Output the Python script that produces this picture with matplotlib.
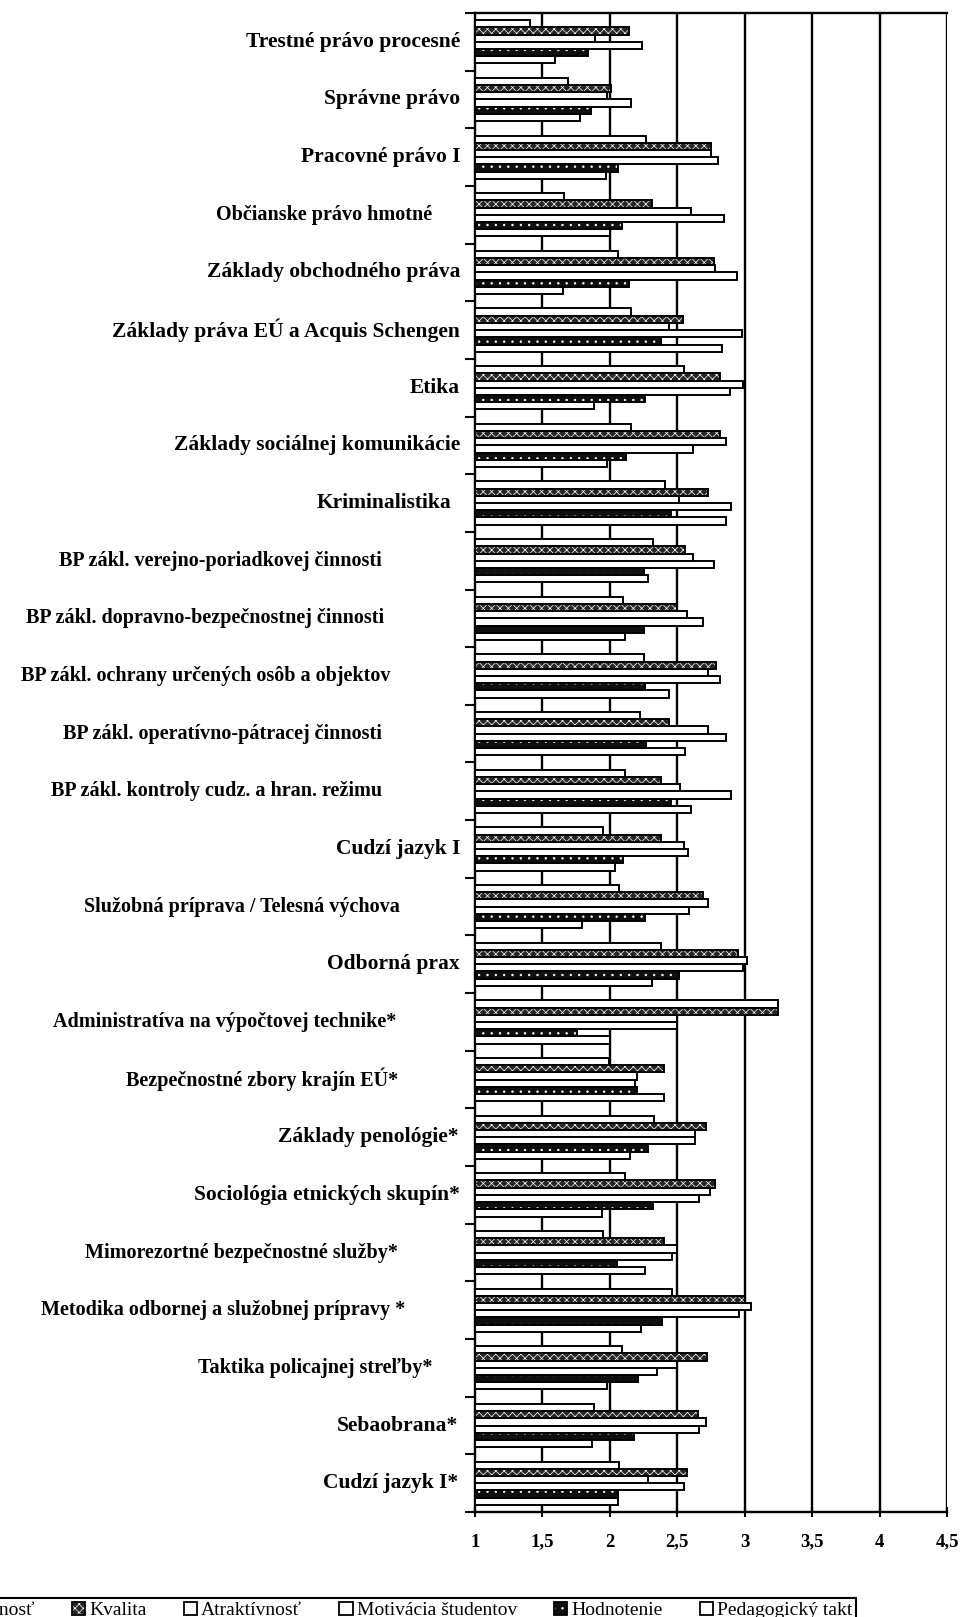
import matplotlib
matplotlib.use("Agg")
import matplotlib.pyplot as plt
from matplotlib.patches import Patch
from matplotlib.ticker import FixedLocator

plt.rcParams['font.family'] = ['Liberation Serif', 'DejaVu Serif']
plt.rcParams['hatch.linewidth'] = 0.5

subjects = [
    "Trestné právo procesné",
    "Správne právo",
    "Pracovné právo I",
    "Občianske právo hmotné",
    "Základy obchodného práva",
    "Základy práva EÚ a Acquis Schengen",
    "Etika",
    "Základy sociálnej komunikácie",
    "Kriminalistika",
    "BP zákl. verejno-poriadkovej činnosti",
    "BP zákl. dopravno-bezpečnostnej činnosti",
    "BP zákl. ochrany určených osôb a objektov",
    "BP zákl. operatívno-pátracej činnosti",
    "BP zákl. kontroly cudz. a hran. režimu",
    "Cudzí jazyk I",
    "Služobná príprava / Telesná výchova",
    "Odborná prax",
    "Administratíva na výpočtovej technike*",
    "Bezpečnostné zbory krajín EÚ*",
    "Základy penológie*",
    "Sociológia etnických skupín*",
    "Mimorezortné bezpečnostné služby*",
    "Metodika odbornej a služobnej prípravy *",
    "Taktika policajnej streľby*",
    "Sebaobrana*",
    "Cudzí jazyk I*",
]

series_names = ["Odbornosť", "Kvalita", "Atraktívnosť", "Motivácia študentov",
                "Hodnotenie", "Pedagogický takt"]

odbornost = [1.41, 1.69, 2.27, 1.66, 2.06, 2.16, 2.55, 2.16, 2.41, 2.32, 2.10, 2.25, 2.22,
             2.11, 1.95, 2.07, 2.38, 3.25, 1.99, 2.33, 2.11, 1.95, 2.46, 2.09, 1.88, 2.07]
kvalita = [2.14, 2.01, 2.75, 2.31, 2.77, 2.54, 2.82, 2.82, 2.73, 2.56, 2.50, 2.79, 2.44,
           2.38, 2.38, 2.69, 2.95, 3.25, 2.40, 2.71, 2.78, 2.40, 3.00, 2.72, 2.65, 2.57]
atraktivnost = [1.89, 1.98, 2.75, 2.60, 2.78, 2.44, 2.99, 2.86, 2.51, 2.62, 2.57, 2.73, 2.73,
                2.52, 2.55, 2.73, 3.02, 2.50, 2.20, 2.63, 2.74, 2.50, 3.05, 2.50, 2.71, 2.28]
motivacia = [2.24, 2.16, 2.80, 2.85, 2.94, 2.98, 2.89, 2.62, 2.90, 2.77, 2.69, 2.82, 2.86,
             2.90, 2.58, 2.59, 2.99, 2.50, 2.19, 2.63, 2.66, 2.46, 2.96, 2.35, 2.66, 2.55]
hodnotenie = [1.84, 1.86, 2.06, 2.09, 2.14, 2.38, 2.26, 2.12, 2.45, 2.25, 2.25, 2.26, 2.27,
              2.45, 2.10, 2.26, 2.51, 1.76, 2.20, 2.28, 2.32, 2.05, 2.39, 2.21, 2.18, 2.06]
ped_takt = [1.59, 1.78, 1.97, 2.00, 1.65, 2.83, 1.88, 1.98, 2.86, 2.28, 2.11, 2.44, 2.56,
            2.60, 2.04, 1.79, 2.31, 2.00, 2.40, 2.15, 1.94, 2.26, 2.23, 1.98, 1.87, 2.06]

x_ticks = [1, 1.5, 2, 2.5, 3, 3.5, 4, 4.5]

all_series = [odbornost, kvalita, atraktivnost, motivacia, hodnotenie, ped_takt]
# face colour, hatch (None = plain white bar)
styles = [("white", None), ("#262626", "xxxx"), ("white", None), ("white", None),
          ("#0f0f0f", ".."), ("white", None)]
# distance of each label's right edge from the axis (px) and whether the
# label was typeset letter-spaced (drawn a bit larger here)
label_gap = [15, 15, 15, 43, 15, 15, 15, 15, 24, 93, 91, 85, 93, 93, 15, 75, 15, 79, 77,
             17, 15, 77, 70, 43, 17, 17]
spaced = [1, 1, 1, 0, 1, 1, 1, 1, 1, 0, 0, 0, 0, 0, 1, 0, 1, 0, 0, 1, 1, 0, 0, 0, 1, 1]

fig = plt.figure(figsize=(9.72, 16.17), dpi=100)
ax = fig.add_axes([475 / 972, 1 - 1512 / 1617, 472 / 972, 1499 / 1617])

n = len(subjects)
h = 0.125
for j, vals in enumerate(all_series):
    face, hatch = styles[j]
    ys = [i + (j - 2.5) * h for i in range(n)]
    widths = [v - 1 for v in vals]
    if hatch is None:
        ax.barh(ys, widths, left=1, height=h, color=face, edgecolor="black",
                linewidth=1.4, zorder=3)
    else:
        ax.barh(ys, widths, left=1, height=h, color=face, edgecolor="white",
                linewidth=0, hatch=hatch, zorder=3)
        ax.barh(ys, widths, left=1, height=h, fill=False, edgecolor="black",
                linewidth=1.4, zorder=4)

for xv in x_ticks[1:]:
    ax.axvline(xv, color="black", linewidth=1.7, zorder=1)

ax.set_xlim(1, 4.5)
ax.set_ylim(n - 0.5, -0.5)
ax.set_xticks(x_ticks)
ax.set_xticklabels([("%g" % t).replace(".", ",") for t in x_ticks],
                   fontsize=13.5, fontweight="bold")
ax.tick_params(axis="x", direction="inout", length=7, width=1.5, pad=12)

ax.set_yticks([])
ax.yaxis.set_minor_locator(FixedLocator([i - 0.5 for i in range(n + 1)]))
ax.tick_params(axis="y", which="minor", direction="out", length=7, width=1.5)

for sp in ["left", "bottom", "top"]:
    ax.spines[sp].set_linewidth(1.7)
ax.spines["right"].set_visible(False)

for i, name in enumerate(subjects):
    ax.annotate(name, xy=(0, i), xycoords=("axes fraction", "data"),
                xytext=(-label_gap[i] * 0.72, 0), textcoords="offset points",
                ha="right", va="center", fontweight="bold",
                fontsize=15.5 if spaced[i] else 14.5)

handles = []
for face, hatch in styles:
    if hatch is None:
        handles.append(Patch(facecolor=face, edgecolor="black", linewidth=1.3))
    else:
        handles.append((Patch(facecolor=face, edgecolor="white", linewidth=0, hatch=hatch),
                        Patch(fill=False, edgecolor="black", linewidth=1.3)))

leg = fig.legend(handles, series_names, ncol=6, loc="upper right",
                 bbox_to_anchor=(866 / 972, 1 - 1588 / 1617),
                 fontsize=14, frameon=True, fancybox=False, framealpha=1,
                 edgecolor="black", handlelength=0.7, handleheight=0.7,
                 handletextpad=0.2, columnspacing=1.9, borderpad=0.2)
leg.get_frame().set_linewidth(1.5)

fig.savefig("out.png", dpi=100)
